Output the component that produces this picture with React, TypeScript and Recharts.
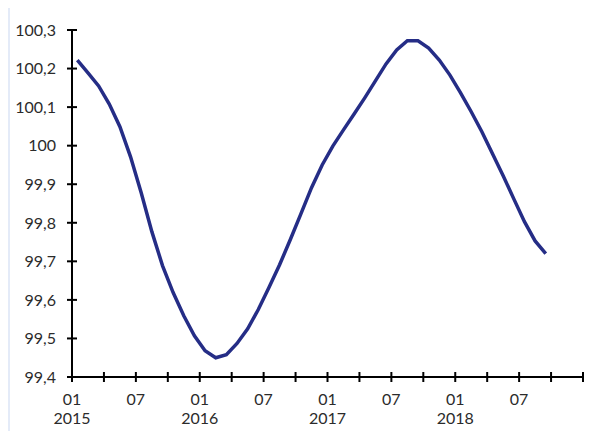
import React from 'react'
import { LineChart, Line, XAxis, YAxis } from 'recharts'

// monthly index values, 2015-01 .. 2018-09
const periods = [
  '2015-01', '2015-02', '2015-03', '2015-04', '2015-05', '2015-06',
  '2015-07', '2015-08', '2015-09', '2015-10', '2015-11', '2015-12',
  '2016-01', '2016-02', '2016-03', '2016-04', '2016-05', '2016-06',
  '2016-07', '2016-08', '2016-09', '2016-10', '2016-11', '2016-12',
  '2017-01', '2017-02', '2017-03', '2017-04', '2017-05', '2017-06',
  '2017-07', '2017-08', '2017-09', '2017-10', '2017-11', '2017-12',
  '2018-01', '2018-02', '2018-03', '2018-04', '2018-05', '2018-06',
  '2018-07', '2018-08', '2018-09',
]

const values = [
  100.222, 100.189, 100.155, 100.108, 100.049, 99.971,
  99.878, 99.777, 99.689, 99.619, 99.559, 99.507,
  99.468, 99.45, 99.458, 99.487, 99.525, 99.575,
  99.632, 99.691, 99.756, 99.823, 99.891, 99.95,
  99.999, 100.041, 100.082, 100.124, 100.168, 100.212,
  100.248, 100.272, 100.272, 100.253, 100.222, 100.183,
  100.137, 100.088, 100.036, 99.979, 99.922, 99.862,
  99.803, 99.753, 99.72,
]

const yTicks = [99.4, 99.5, 99.6, 99.7, 99.8, 99.9, 100, 100.1, 100.2, 100.3]
const xTicks = [0, 3, 6, 9, 12, 15, 18, 21, 24, 27, 30, 33, 36, 39, 42, 45, 48]
const years = ['2015', '2016', '2017', '2018']

const data = periods.map((p, i) => ({ period: p, x: i + 0.5, value: values[i] }))

const W = 582
const H = 432
const margin = { top: 23, right: 9, left: 0, bottom: 0 }
const YW = 62
const XH = 62
const AX = margin.left + YW
const AY = H - margin.bottom - XH
const font = 'Lato, "Open Sans", sans-serif'
const txt = '#2b2b2b'

const fmt = (v: number) => (Math.round(v * 10) / 10).toString().replace('.', ',')

const YTick = (props: any) => {
  const { y, payload } = props
  return (
    <g>
      <path d={`M${AX},${y}H${AX + 5}`} stroke="#000" strokeWidth={2} fill="none" />
      <text x={AX - 16} y={y} dy="0.36em" textAnchor="end" fontSize={16} fill={txt} fontFamily={font}>
        {fmt(payload.value)}
      </text>
    </g>
  )
}

const XTick = (props: any) => {
  const { x, payload } = props
  const v = payload.value
  const m = v % 12
  const label = v < 48 ? (m === 0 ? '01' : m === 6 ? '07' : '') : ''
  const year = m === 0 && v < 48 ? years[v / 12] : ''
  return (
    <g>
      <path d={`M${x},${AY}V${AY - 5}`} stroke="#000" strokeWidth={2} fill="none" />
      {label && (
        <text x={x} y={AY + 28} textAnchor="middle" fontSize={16} fill={txt} fontFamily={font}>
          {label}
        </text>
      )}
      {year && (
        <text x={x} y={AY + 47} textAnchor="middle" fontSize={16} fill={txt} fontFamily={font}>
          {year}
        </text>
      )}
    </g>
  )
}

export default function App() {
  return (
    <div style={{ margin: -8, width: 592, height: 439, background: '#e4ebf8', position: 'relative', overflow: 'hidden' }}>
      <div style={{ position: 'absolute', left: 10, top: 7, width: W, height: H, background: '#fff' }}>
        <LineChart width={W} height={H} data={data} margin={margin}>
          <XAxis
            dataKey="x"
            type="number"
            domain={[0, 48]}
            ticks={xTicks}
            interval={0}
            height={XH}
            tickSize={5}
            tickLine={{ stroke: '#000', strokeWidth: 2 }}
            axisLine={{ stroke: '#000', strokeWidth: 2 }}
            tick={(p: any) => <XTick {...p} />}
          />
          <YAxis
            type="number"
            domain={[99.4, 100.3]}
            ticks={yTicks}
            interval={0}
            width={YW}
            tickSize={5}
            tickLine={{ stroke: '#000', strokeWidth: 2 }}
            axisLine={{ stroke: '#000', strokeWidth: 2 }}
            tick={(p: any) => <YTick {...p} />}
          />
          <Line
            type="linear"
            dataKey="value"
            stroke="#252d86"
            strokeWidth={3.5}
            dot={false}
            isAnimationActive={false}
          />
        </LineChart>
      </div>
    </div>
  )
}
